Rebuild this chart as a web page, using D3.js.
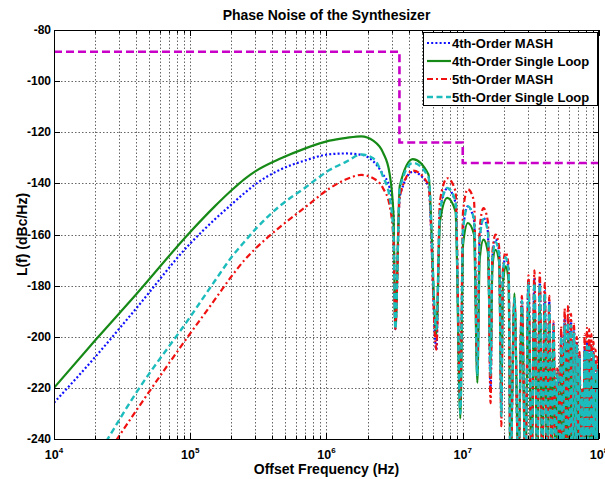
<!DOCTYPE html>
<html>
<head>
<meta charset="utf-8">
<script src="https://cdn.jsdelivr.net/npm/d3@7"></script>
<style>
  body { margin: 0; background: #fff; }
  svg { font-family: "Liberation Sans", Arial, sans-serif; font-weight: bold; }
</style>
</head>
<body>
<svg id="chart" width="605" height="479"></svg>
<script>
// DATA

// smooth part, shared offset frequencies (Hz)
var smoothHz = [1e4, 2e4, 4e4, 1e5, 1.5e5, 2e5, 2.5e5, 3e5, 4.5e5, 7e5, 1.05e6, 1.4e6, 1.8e6, 2.2e6, 2.6e6, 2.9e6, 3.1e6];

var blueSmooth  = [-225.8, -208, -189, -163.5, -154.3, -148.3, -143.8, -140.4, -134.8, -131, -128.6, -128.3, -128.8, -131.3, -136.5, -141.5, -152];
var greenSmooth = [-220, -201.5, -183.5, -159, -149.2, -142.8, -138.3, -135.3, -130.5, -126.3, -123.3, -122.2, -121.6, -123.3, -128, -136, -152];
var redSmooth   = [-277, -253, -229, -198.7, -185.8, -176.5, -170, -165.6, -157.3, -149.3, -142, -138.4, -136.7, -138, -141.9, -148.5, -162];
var cyanSmooth  = [-272, -248, -222, -192.2, -178.5, -169, -162.8, -158, -149, -141.6, -134.8, -131.5, -128.7, -130.2, -137.4, -145.2, -160];

// notch frequencies of the comb (MHz)
var notchMHz = [3.2, 6.4, 9.6, 12.8, 16, 19.2, 22.4, 25.6, 28.8, 32, 35.2, 38.4, 41.6, 44.8, 48,
  51.2, 54.4, 57.6, 60.8, 64, 67.2, 70.4, 73.6, 76.8, 80, 83.2, 86.4, 89.6, 92.8, 96, 99.2];

// sample points inside the first six (wide) lobes (MHz)
var lobeSampleMHz = [[3.45, 4.3, 5.6], [6.8, 7.7, 8.85], [10.05, 10.9, 12.1],
  [13.3, 14.2, 15.3], [16.5, 17.4, 18.5], [19.7, 20.6, 21.7]];

// notch depths (dB), deeper notches run off the bottom
var blueNotch  = [-197, -205, -225, -212, -220, -228, -250];
var greenNotch = [-197, -199, -232, -218, -210, -223, -250];
var redNotch   = [-197, -205, -225, -212, -226, -235, -250];
var cyanNotch  = [-197, -197, -230, -215, -215, -231, -250];

// first six lobes, values at lobeSampleMHz
var blueLobes  = [[-145, -135.5, -141], [-151, -142, -147.5], [-158, -149, -154.5], [-162, -153.5, -159], [-169, -162, -167], [-176, -169, -174]];
var greenLobes = [[-141, -130.5, -136.5], [-155, -145.7, -151], [-164, -155.5, -160], [-170, -162, -167], [-173, -166, -171], [-180, -172.5, -178]];
var redLobes   = [[-145, -135, -140.5], [-147, -138, -143], [-151, -142.3, -147], [-158, -149.7, -155], [-167, -160, -165], [-174, -167, -172]];
var cyanLobes  = [[-142, -132, -137.5], [-151, -141.8, -147], [-158, -149, -154], [-162, -154, -159], [-170, -163, -168], [-176, -169, -174]];

// peaks of the narrow lobes 7..30
var bluePeaks  = [-186, -185, -178, -177, -178, -182, -186, -195, -213, -199, -193, -193, -194, -197, -202, -207, -221, -204, -202, -202, -204, -206, -209, -212];
var greenPeaks = [-183, -188, -186, -186, -187, -190, -193, -200, -218, -205, -200, -200, -201, -203, -207, -212, -226, -210, -208, -208, -210, -212, -215, -218];
var redPeaks   = [-186, -184, -176, -174, -175, -179, -184, -194, -212, -196, -189, -188, -191, -195, -200, -206, -220, -199, -196.5, -197, -199, -202, -205, -208];
var cyanPeaks  = [-185, -186, -179, -179, -179.5, -183, -187, -196, -214, -200, -195, -194.5, -195.5, -198, -203, -208, -222, -205.5, -203.5, -204, -205, -207, -210, -213];

// spec mask: [from Hz, to Hz, dB]
var maskSteps = [[1e4, 3.43e6, -88.5], [3.43e6, 1e7, -124], [1e7, 1e8, -132]];

var seriesNames = ['4th-Order MASH', '4th-Order Single Loop', '5th-Order MASH', '5th-Order Single Loop'];
var yTicks = [-240, -220, -200, -180, -160, -140, -120, -100, -80];

(function () {
  // SETUP
  var svg = d3.select('#chart');
  var pLeft = 54, pRight = 599, pTop = 30, pBottom = 439;

  var x = d3.scaleLog().domain([1e4, 1e8]).range([pLeft, pRight]);
  var y = d3.scaleLinear().domain([-240, -80]).range([pBottom, pTop]);

  var minorTicks = [];
  [1e4, 1e5, 1e6, 1e7].forEach(function (dec) {
    for (var m = 1; m <= 9; m++) minorTicks.push(dec * m);
  });
  minorTicks.push(1e8);
  var majorTicks = [1e4, 1e5, 1e6, 1e7, 1e8];

  // grid
  var grid = svg.append('g').attr('class', 'grid')
    .attr('stroke', '#555').attr('stroke-width', 0.9).attr('stroke-dasharray', '1.5,2');
  grid.selectAll('line.v').data(minorTicks.slice(1, -1)).enter().append('line')
    .attr('x1', function (d) { return Math.round(x(d)) + 0.5; })
    .attr('x2', function (d) { return Math.round(x(d)) + 0.5; })
    .attr('y1', pTop).attr('y2', pBottom);
  grid.selectAll('line.h').data(yTicks.slice(1, -1)).enter().append('line')
    .attr('y1', function (d) { return Math.round(y(d)) + 0.5; })
    .attr('y2', function (d) { return Math.round(y(d)) + 0.5; })
    .attr('x1', pLeft).attr('x2', pRight);

  // clip for curves
  svg.append('clipPath').attr('id', 'plot-clip')
    .append('rect').attr('x', pLeft).attr('y', pTop).attr('width', pRight - pLeft).attr('height', pBottom - pTop);

  var plot = svg.append('g').attr('clip-path', 'url(#plot-clip)');

  // mask
  var maskPts = [];
  maskSteps.forEach(function (s) { maskPts.push([s[0], s[2]]); maskPts.push([s[1], s[2]]); });
  plot.append('path')
    .attr('d', d3.line().x(function (d) { return x(d[0]); }).y(function (d) { return y(d[1]); })(maskPts))
    .attr('fill', 'none').attr('stroke', '#c800c8').attr('stroke-width', 2.6)
    .attr('stroke-dasharray', '8,4');

  function buildSeries(smooth, notches, lobes, peaks) {
    var pts = smoothHz.map(function (f, i) { return [f, smooth[i]]; });
    notchMHz.forEach(function (n, k) {
      pts.push([n * 1e6, k < notches.length ? notches[k] : -250]);
      if (k < notchMHz.length - 1) {
        if (k < lobes.length) {
          lobeSampleMHz[k].forEach(function (f, j) { pts.push([f * 1e6, lobes[k][j]]); });
        } else {
          pts.push([Math.sqrt(n * notchMHz[k + 1]) * 1e6, peaks[k - lobes.length]]);
        }
      }
    });
    return pts;
  }

  var series = [
    { name: seriesNames[0], color: '#1010ff', dash: '2,2.2', width: 2.2, pts: buildSeries(blueSmooth, blueNotch, blueLobes, bluePeaks) },
    { name: seriesNames[1], color: '#168a16', dash: null, width: 2.2, pts: buildSeries(greenSmooth, greenNotch, greenLobes, greenPeaks) },
    { name: seriesNames[2], color: '#f01010', dash: '6,3,2,3', width: 2.2, pts: buildSeries(redSmooth, redNotch, redLobes, redPeaks) },
    { name: seriesNames[3], color: '#1cbcbc', dash: '6,3.5', width: 2.4, pts: buildSeries(cyanSmooth, cyanNotch, cyanLobes, cyanPeaks) }
  ];

  var line = d3.line()
    .x(function (d) { return x(d[0]); })
    .y(function (d) { return y(d[1]); })
    .curve(d3.curveMonotoneX);

  plot.selectAll('path.series').data(series).enter().append('path')
    .attr('class', 'series')
    .attr('d', function (d) { return line(d.pts); })
    .attr('fill', 'none')
    .attr('stroke', function (d) { return d.color; })
    .attr('stroke-width', function (d) { return d.width; })
    .attr('stroke-dasharray', function (d) { return d.dash; });

  // frame and ticks
  var axes = svg.append('g').attr('stroke', '#000').attr('stroke-width', 1);
  axes.append('rect').attr('x', pLeft + 0.5).attr('y', pTop + 0.5)
    .attr('width', pRight - pLeft - 1).attr('height', pBottom - pTop).attr('fill', 'none');

  minorTicks.forEach(function (t) {
    var px = Math.round(x(t)) + 0.5;
    var len = majorTicks.indexOf(t) >= 0 ? 6 : 3.5;
    axes.append('line').attr('x1', px).attr('x2', px).attr('y1', pBottom).attr('y2', pBottom - len);
    axes.append('line').attr('x1', px).attr('x2', px).attr('y1', pTop).attr('y2', pTop + len);
  });
  yTicks.forEach(function (t) {
    var py = Math.round(y(t)) + 0.5;
    axes.append('line').attr('x1', pLeft).attr('x2', pLeft + 6).attr('y1', py).attr('y2', py);
    axes.append('line').attr('x1', pRight).attr('x2', pRight - 6).attr('y1', py).attr('y2', py);
  });

  // tick labels
  svg.selectAll('text.ylab').data(yTicks).enter().append('text')
    .attr('class', 'ylab')
    .attr('x', pLeft - 3).attr('y', function (d) { return y(d) + 4; })
    .attr('text-anchor', 'end').attr('font-size', 12)
    .text(function (d) { return d; });

  var xl = svg.selectAll('text.xlab').data(majorTicks).enter().append('text')
    .attr('class', 'xlab')
    .attr('x', function (d) { return x(d); }).attr('y', 459)
    .attr('text-anchor', 'middle').attr('font-size', 12.5);
  xl.append('tspan').text('10');
  xl.append('tspan').attr('dy', -6).attr('font-size', 8)
    .text(function (d) { return Math.round(Math.log10(d)); });

  // titles
  svg.append('text').attr('x', (pLeft + pRight) / 2).attr('y', 20)
    .attr('text-anchor', 'middle').attr('font-size', 14).text('Phase Noise of the Synthesizer');
  svg.append('text').attr('x', (pLeft + pRight) / 2).attr('y', 474)
    .attr('text-anchor', 'middle').attr('font-size', 14).text('Offset Frequency (Hz)');
  svg.append('text').attr('transform', 'translate(27,' + ((pTop + pBottom) / 2) + ') rotate(-90)')
    .attr('text-anchor', 'middle').attr('font-size', 14).text('L(f) (dBc/Hz)');

  // legend
  var legend = svg.append('g').attr('transform', 'translate(423,32)');
  legend.append('rect').attr('x', 0.5).attr('y', 0.5).attr('width', 174).attr('height', 73)
    .attr('fill', '#fff').attr('stroke', '#000').attr('stroke-width', 1);
  var items = legend.selectAll('g.item').data(series).enter().append('g')
    .attr('class', 'item')
    .attr('transform', function (d, i) { return 'translate(0,' + (11 + i * 18) + ')'; });
  items.append('line').attr('x1', 4).attr('x2', 28).attr('y1', 0).attr('y2', 0)
    .attr('stroke', function (d) { return d.color; })
    .attr('stroke-width', function (d) { return d.width; })
    .attr('stroke-dasharray', function (d) { return d.dash; });
  items.append('text').attr('x', 29).attr('y', 5).attr('font-size', 13)
    .text(function (d) { return d.name; });
})();
</script>
</body>
</html>
